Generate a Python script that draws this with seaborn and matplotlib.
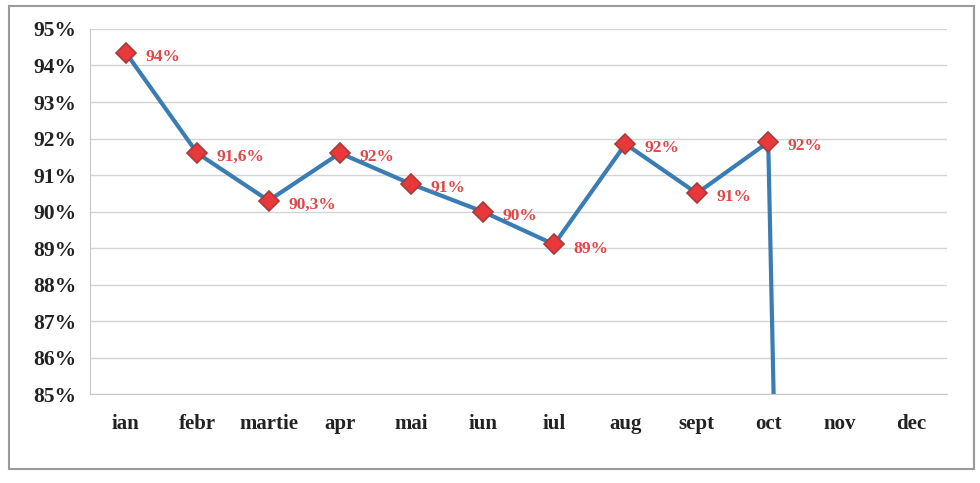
import numpy as np
import pandas as pd
import seaborn as sns
import matplotlib.pyplot as plt
from matplotlib.patches import Rectangle

months = ['ian', 'febr', 'martie', 'apr', 'mai', 'iun', 'iul', 'aug', 'sept', 'oct', 'nov', 'dec']
values = [94.35, 91.6, 90.3, 91.6, 90.75, 90.0, 89.1, 91.85, 90.5, 91.9, 0.0]
labels = ['94%', '91,6%', '90,3%', '92%', '91%', '90%', '89%', '92%', '91%', '92%']
yticks = [85, 86, 87, 88, 89, 90, 91, 92, 93, 94, 95]

df = pd.DataFrame({'idx': np.arange(len(values)), 'val': values})

sns.set_style('white')
plt.rcParams['font.family'] = ['Liberation Serif', 'DejaVu Serif']

fig = plt.figure(figsize=(9.8, 4.83), dpi=100)
ax = fig.add_axes([0.092, 0.184, 0.874, 0.756])

sns.lineplot(data=df, x='idx', y='val', ax=ax, color='#3a7db5', linewidth=3,
             marker='D', markersize=10, markerfacecolor='#e8383a',
             markeredgecolor='#a83a3a', markeredgewidth=1.2)

for i, lab in enumerate(labels):
    ax.annotate(lab, (i, values[i]), xytext=(14, -3), textcoords='offset points',
                color='#e04848', fontsize=12.5, fontweight='bold', va='center', ha='left')

ax.set_xlim(-0.5, 11.5)
ax.set_ylim(85, 95)
ax.set_yticks(yticks)
ax.set_yticklabels([f'{v}%' for v in yticks], fontsize=15.5, fontweight='bold', color='#222222')
ax.set_xticks(np.arange(12))
ax.set_xticklabels(months, fontsize=15, fontweight='bold', color='#222222')
ax.set_xticks(np.arange(-0.5, 12, 1), minor=True)
ax.tick_params(axis='x', which='major', length=0, pad=14)
ax.tick_params(axis='x', which='minor', length=4, color='#bbbbbb', direction='out')
ax.tick_params(axis='y', length=0, pad=10)
ax.set_xlabel('')
ax.set_ylabel('')

ax.yaxis.grid(True, color='#d4d4d4', linewidth=1)
ax.set_axisbelow(True)
for s in ['top', 'right']:
    ax.spines[s].set_visible(False)
ax.spines['left'].set_color('#c8c8c8')
ax.spines['bottom'].set_color('#c8c8c8')

fig.patches.append(Rectangle((0.009, 0.028), 0.985, 0.96, transform=fig.transFigure,
                             fill=False, edgecolor='#9a9a9a', linewidth=1.5))

fig.savefig('out.png', dpi=100)
